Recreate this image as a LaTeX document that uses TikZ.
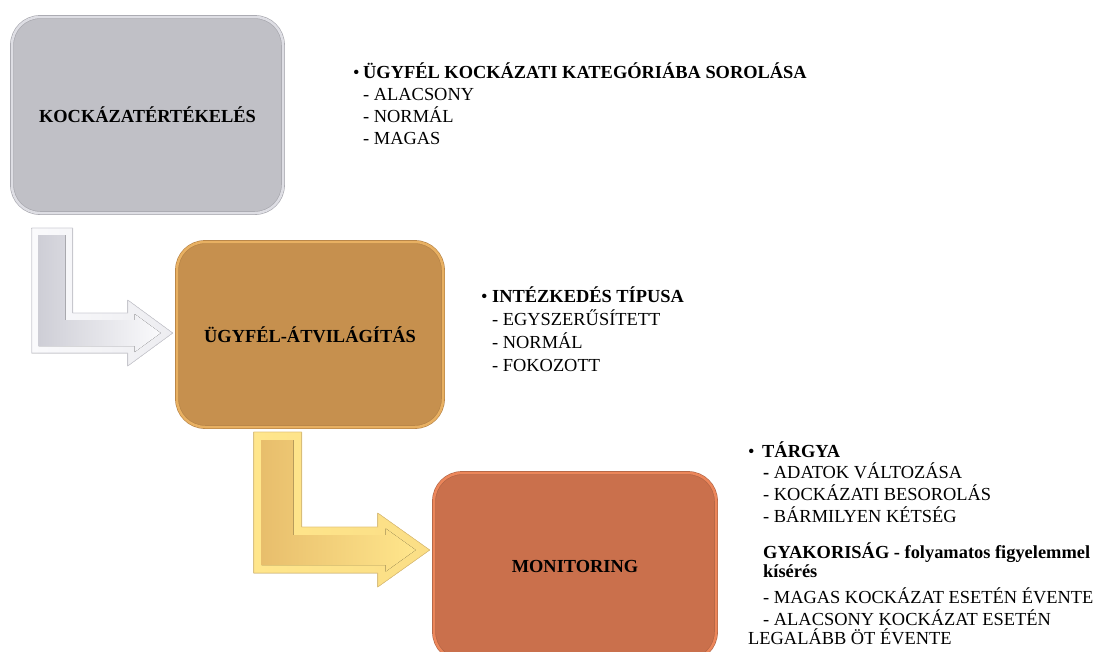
\documentclass[tikz,border=0pt]{standalone}
\usepackage{fontspec}
\setmainfont{Liberation Serif}
\definecolor{Gfill}{RGB}{192,192,198}
\definecolor{Grim}{RGB}{222,222,228}
\definecolor{Gedge}{RGB}{165,165,172}
\definecolor{Ofill}{RGB}{198,144,78}
\definecolor{Orim}{RGB}{232,176,98}
\definecolor{Oedge}{RGB}{180,130,70}
\definecolor{Rfill}{RGB}{202,112,76}
\definecolor{Rrim}{RGB}{236,134,90}
\definecolor{Redge}{RGB}{175,100,70}
\definecolor{Wlo}{RGB}{206,206,214}
\definecolor{Whi}{RGB}{250,250,252}
\definecolor{Wedge}{RGB}{205,205,212}
\definecolor{Ylo}{RGB}{232,190,108}
\definecolor{Yhi}{RGB}{255,230,140}
\definecolor{Yedge}{RGB}{228,196,120}

\begin{document}
\begin{tikzpicture}[x=1pt,y=-1pt,line join=round,
  stagebox/.style={rectangle,rounded corners=28pt,inner sep=0pt,line width=0.6pt,double distance=2.5pt,font=\bfseries\fontsize{18.4}{22}\selectfont},
  itemtext/.style={anchor=base west,align=left,inner sep=0pt,font=\fontsize{18.4}{21.7}\selectfont}]
\clip (0,0) rectangle (1099,651);
% stages
\node[stagebox,fill=Gfill,draw=Gedge,double=Grim,minimum width=271pt,minimum height=196pt] (kockazat) at (147.5,115) {KOCKÁZATÉRTÉKELÉS};
\node[stagebox,fill=Ofill,draw=Oedge,double=Orim,minimum width=266pt,minimum height=185pt] (atvilagitas) at (310,334.5) {ÜGYFÉL-ÁTVILÁGÍTÁS};
\node[stagebox,fill=Rfill,draw=Redge,double=Rrim,minimum width=282pt,minimum height=187pt] (monitoring) at (575,566.5) {MONITORING};
% bent arrows
\coordinate (tip1) at ([shift={(-4,-1.5)}]atvilagitas.west);
\coordinate (tip2) at ([shift={(-4,-16.5)}]monitoring.west);
\fill[draw=Wedge,line width=0.6pt,left color=Whi,right color=Whi!70!Wlo] (tip1) -- ++(-45,33) -- ++(0,-13) -- ++(-96,0) -- ++(0,-125) -- ++(41,0) -- ++(0,85) -- ++(55,0) -- ++(0,-13) -- cycle;
\fill[left color=Wlo,right color=Whi] ([xshift=-12pt]tip1) -- ++(-26,19) -- ++(0,-6) -- ++(-96,0) -- ++(0,-111) -- ++(27,0) -- ++(0,85) -- ++(69,0) -- ++(0,-6) -- cycle;
\fill[draw=Yedge,line width=0.6pt,left color=Yhi,right color=Yhi!80!Ylo] (tip2) -- ++(-52,37) -- ++(0,-14) -- ++(-124,0) -- ++(0,-141) -- ++(48,0) -- ++(0,95) -- ++(76,0) -- ++(0,-14) -- cycle;
\fill[left color=Ylo,right color=Yhi] ([xshift=-14pt]tip2) -- ++(-30,21.5) -- ++(0,-6.5) -- ++(-124,0) -- ++(0,-125) -- ++(32,0) -- ++(0,95) -- ++(92,0) -- ++(0,-6.5) -- cycle;
% texts (base = last line)
\node[itemtext] (kockazat-txt) at (353,144) {\makebox[10pt][l]{\textbullet}\textbf{ÜGYFÉL KOCKÁZATI KATEGÓRIÁBA SOROLÁSA}\\
\hspace*{10pt}- ALACSONY\\
\hspace*{10pt}- NORMÁL\\
\hspace*{10pt}- MAGAS};
\node[itemtext,font=\fontsize{18.4}{22.7}\selectfont] (atvilagitas-txt) at (481,371) {\makebox[11pt][l]{\textbullet}\textbf{INTÉZKEDÉS TÍPUSA}\\
\hspace*{11pt}- EGYSZERŰSÍTETT\\
\hspace*{11pt}- NORMÁL\\
\hspace*{11pt}- FOKOZOTT};
\node[itemtext] (monitoring-txt) at (748,644) {\makebox[14pt][l]{\textbullet}\textbf{TÁRGYA}\\
\hspace*{15pt}\textbf{-} ADATOK VÁLTOZÁSA\\
\hspace*{15pt}- KOCKÁZATI BESOROLÁS\\
\hspace*{15pt}- BÁRMILYEN KÉTSÉG\\[14.3pt]
\hspace*{15pt}\textbf{GYAKORISÁG - folyamatos figyelemmel}\\[-2.7pt]
\hspace*{15pt}\textbf{kísérés}\\[4.3pt]
\hspace*{15pt}- MAGAS KOCKÁZAT ESETÉN ÉVENTE\\[0.3pt]
\hspace*{15pt}- ALACSONY KOCKÁZAT ESETÉN\\[-3pt]
LEGALÁBB ÖT ÉVENTE};
\end{tikzpicture}
\end{document}
